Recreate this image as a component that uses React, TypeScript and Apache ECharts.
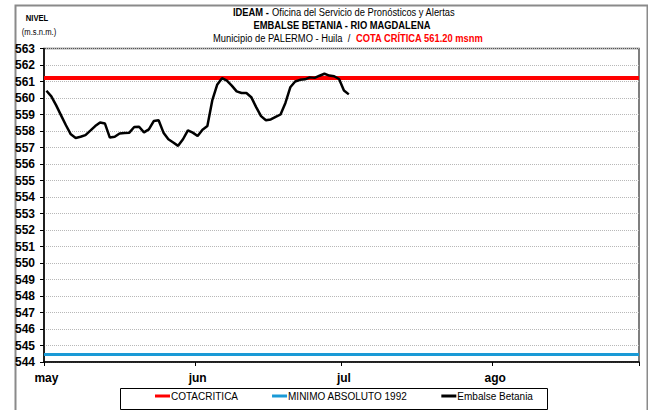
import React, { useEffect, useRef } from "react";
import * as echarts from "echarts";

const monthLabels = ["may", "jun", "jul", "ago"];
const monthStartIdx = [0, 31, 61, 92];
const dayCount = 122; // 1 may .. 31 ago
const cotaCritica = 561.2;
const minimoAbsoluto = 544.45;
const yMin = 544;
const yMax = 563;
const legendNames = ["COTACRITICA", "MINIMO ABSOLUTO 1992", "Embalse Betania"];
const betania = [
  560.44, 560.1, 559.55, 558.95, 558.35, 557.8, 557.58, 557.65, 557.75, 558.02,
  558.3, 558.52, 558.45, 557.6, 557.65, 557.85, 557.88, 557.9, 558.24, 558.26,
  557.92, 558.1, 558.6, 558.65, 557.9, 557.5, 557.3, 557.1, 557.5, 558.04,
  557.9, 557.7, 558.08, 558.3, 559.85, 560.8, 561.2, 561.05, 560.75, 560.4,
  560.3, 560.3, 560.05, 559.45, 558.9, 558.65, 558.7, 558.85, 559.0, 559.7,
  560.65, 561.0, 561.1, 561.13, 561.25, 561.22, 561.35, 561.47, 561.36, 561.32,
  561.15, 560.45, 560.22,
];

const F = "'Liberation Sans', Arial, sans-serif";
const SX = 0.85;

export default function App() {
  const ref = useRef<HTMLDivElement>(null);
  useEffect(() => {
    if (!ref.current) return;
    const chart = echarts.init(ref.current, undefined, { renderer: "svg" });
    const categories = Array.from({ length: dayCount }, (_, i) => String(i));
    const isMonthStart = (i: number) => monthStartIdx.indexOf(i) >= 0;
    chart.setOption({
      animation: false,
      backgroundColor: "#fff",
      grid: {
        left: 44,
        right: 9,
        top: 48.5,
        bottom: 48,
        show: true,
        borderColor: "#555",
        borderWidth: 1.5,
        backgroundColor: "transparent",
      },
      xAxis: {
        type: "category",
        data: categories,
        boundaryGap: true,
        axisLine: { lineStyle: { color: "#000", width: 1.5 } },
        axisTick: {
          show: true,
          interval: (i: number) => isMonthStart(i),
          length: 4,
          lineStyle: { color: "#000" },
        },
        axisLabel: {
          interval: (i: number) => isMonthStart(i),
          formatter: (_v: string, i: number) => {
            const k = monthStartIdx.indexOf(i);
            return k >= 0 ? monthLabels[k] : "";
          },
          fontFamily: F,
          fontWeight: "bold",
          fontSize: 12,
          color: "#000",
          margin: 10,
        },
        splitLine: { show: false },
      },
      yAxis: {
        type: "value",
        min: yMin,
        max: yMax,
        interval: 1,
        axisLine: { show: true, lineStyle: { color: "#000", width: 1.5 } },
        axisTick: { show: true, length: 4, lineStyle: { color: "#000" } },
        axisLabel: {
          fontFamily: F,
          fontWeight: "bold",
          fontSize: 12,
          color: "#000",
          margin: 9,
        },
        splitLine: { show: true, lineStyle: { color: "#b8b8b8", type: "dotted", width: 1 } },
      },
      legend: {
        data: legendNames,
        left: 155,
        top: 391,
        padding: 0,
        itemGap: 34,
        itemWidth: 15,
        itemHeight: 3,
        icon: "rect",
        textStyle: { fontFamily: F, fontSize: 10, color: "#000", padding: [0, 0, 0, -4] },
      },
      series: [
        {
          name: legendNames[0],
          type: "line",
          data: [],
          color: "#ff0000",
          markLine: {
            silent: true,
            symbol: ["none", "none"],
            label: { show: false },
            lineStyle: { color: "#ff0000", width: 4, type: "solid" },
            data: [{ yAxis: cotaCritica }],
          },
        },
        {
          name: legendNames[1],
          type: "line",
          data: [],
          color: "#1a9ad6",
          markLine: {
            silent: true,
            symbol: ["none", "none"],
            label: { show: false },
            lineStyle: { color: "#1a9ad6", width: 3, type: "solid" },
            data: [{ yAxis: minimoAbsoluto }],
          },
        },
        {
          name: legendNames[2],
          type: "line",
          data: betania,
          color: "#000",
          showSymbol: false,
          symbol: "none",
          lineStyle: { color: "#000", width: 2.5 },
          z: 5,
        },
      ],
      graphic: [
        {
          type: "rect",
          left: 13,
          top: 3,
          shape: { width: 632, height: 420 },
          style: { fill: "none", stroke: "#8a8a8a", lineWidth: 2 },
          silent: true,
          z: -1,
        },
        {
          type: "rect",
          left: 118,
          top: 386,
          shape: { width: 427, height: 21 },
          style: { fill: "none", stroke: "#000", lineWidth: 1 },
          silent: true,
        },
        {
          type: "text",
          x: 344,
          y: 12,
          scaleX: SX,
          style: {
            text: "{b|IDEAM -} {n|Oficina del Servicio de Pronósticos y Alertas}",
            align: "center",
            verticalAlign: "middle",
            rich: {
              b: { fontFamily: F, fontSize: 11, fontWeight: "bold", fill: "#000" },
              n: { fontFamily: F, fontSize: 11, fill: "#000" },
            },
          },
        },
        {
          type: "text",
          x: 342,
          y: 25,
          scaleX: SX,
          style: {
            text: "EMBALSE BETANIA - RIO MAGDALENA",
            align: "center",
            verticalAlign: "middle",
            fontFamily: F,
            fontSize: 11,
            fontWeight: "bold",
            fill: "#000",
          },
        },
        {
          type: "text",
          x: 348,
          y: 38,
          scaleX: SX,
          style: {
            text: "{n|Municipio de PALERMO - Huila  /  }{r|COTA CRÍTICA 561.20 msnm}",
            align: "center",
            verticalAlign: "middle",
            rich: {
              n: { fontFamily: F, fontSize: 11, fill: "#000" },
              r: { fontFamily: F, fontSize: 11, fontWeight: "bold", fill: "#ff0000" },
            },
          },
        },
        {
          type: "text",
          x: 37,
          y: 18,
          scaleX: SX,
          style: {
            text: "NIVEL",
            align: "center",
            verticalAlign: "middle",
            fontFamily: F,
            fontSize: 9,
            fontWeight: "bold",
            fill: "#000",
          },
        },
        {
          type: "text",
          x: 39,
          y: 32,
          scaleX: SX,
          style: {
            text: "(m.s.n.m.)",
            align: "center",
            verticalAlign: "middle",
            fontFamily: F,
            fontSize: 9,
            fill: "#000",
          },
        },
      ],
    });
    return () => chart.dispose();
  }, []);
  return <div ref={ref} style={{ width: 648, height: 410, position: "absolute", left: 0, top: 0 }} />;
}
